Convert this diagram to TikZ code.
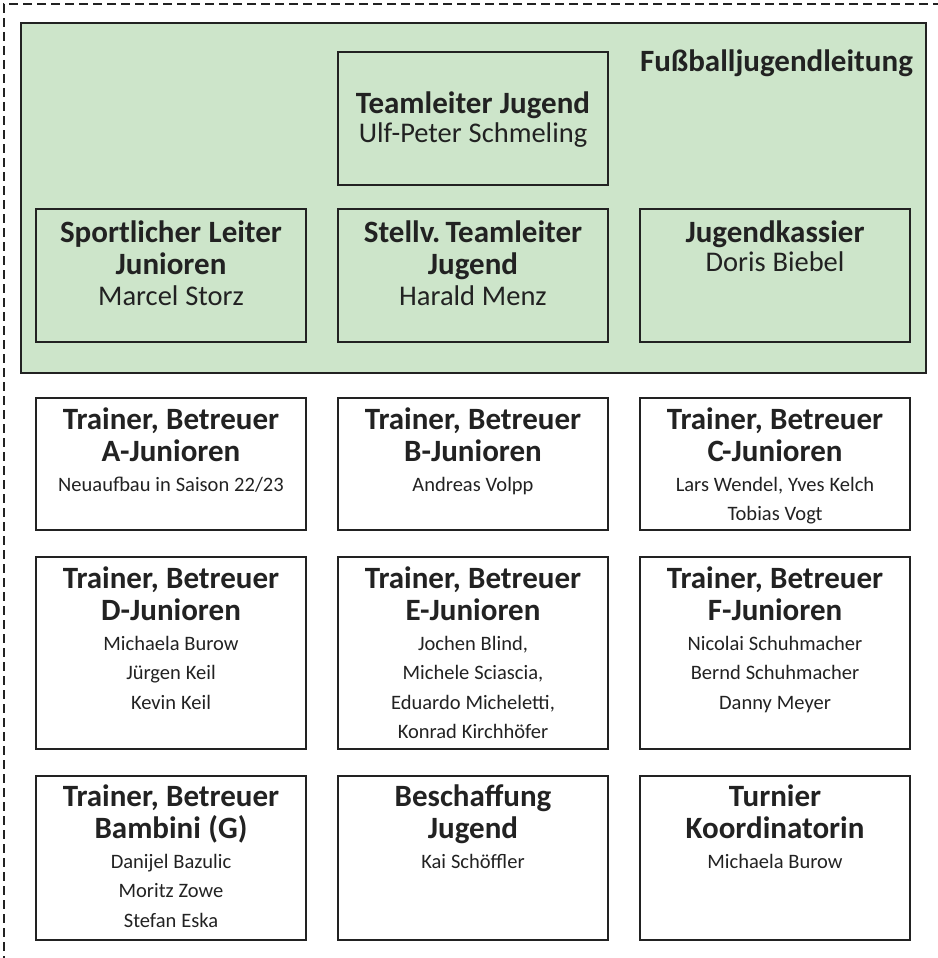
\documentclass[tikz,border=0pt]{standalone}
\usepackage{fontspec}
\setmainfont{Carlito}
\definecolor{lgreen}{RGB}{205,229,202}
\definecolor{edge}{RGB}{34,34,34}
\newcommand\ttl{\fontsize{31}{32.5}\selectfont\bfseries\spaceskip=.24em\relax}
\newcommand\nmbig{\fontsize{28.5}{31}\selectfont\mdseries\spaceskip=.24em\relax}
\newcommand\nmtop{\fontsize{28.5}{29}\selectfont\mdseries\spaceskip=.24em\relax}
\newcommand\nmsmall{\fontsize{20.5}{29.5}\selectfont\mdseries\spaceskip=.24em\relax}
\begin{document}
\begin{tikzpicture}[x=1pt,y=-1pt,
  obox/.style={draw=edge,line width=2pt,minimum width=270pt,anchor=north west,inner sep=0pt,fill=white},
  gbox/.style={obox,fill=lgreen},
  otext/.style={anchor=base,text width=268pt,align=center,inner sep=0pt,text=edge}]
\useasboundingbox (0,0) rectangle (937,958);
\draw[edge,line width=2pt,dash pattern=on 9pt off 5pt] (942,4) -- (4,4) -- (4,964);
% green area
\node[draw=edge,line width=2pt,fill=lgreen,anchor=north west,minimum width=905pt,minimum height=350pt,inner sep=0pt] (leit) at (20,22) {};
\node[anchor=base east,inner sep=0pt,text=edge] (leitt) at (913,71) {\ttl Fußballjugendleitung};
% top box
\node[gbox,minimum height=133pt] (tl) at (337,51) {};
\node[otext] (tlt) at ([yshift=-62pt]tl.north) {{\ttl Teamleiter Jugend\par}{\nmtop Ulf-Peter Schmeling\par}};
% green row
\node[gbox,minimum height=133pt] (sl) at (35,208) {};
\node[otext] (slt) at ([yshift=-34pt]sl.north) {{\ttl Sportlicher Leiter\par Junioren\par}{\nmbig Marcel Storz\par}};
\node[gbox,minimum height=133pt] (st) at (337,208) {};
\node[otext] (stt) at ([yshift=-34pt]st.north) {{\ttl Stellv. Teamleiter\par Jugend\par}{\nmbig Harald Menz\par}};
\node[gbox,minimum height=133pt] (jk) at (639,208) {};
\node[otext] (jkt) at ([yshift=-34pt]jk.north) {{\ttl Jugendkassier\par}{\nmtop Doris Biebel\par}};
% row 3
\node[obox,minimum height=132pt] (a) at (35,397) {};
\node[otext] (at) at ([yshift=-32pt]a.north) {{\ttl Trainer, Betreuer\par A-Junioren\par}{\nmsmall Neuaufbau in Saison 22/23\par}};
\node[obox,minimum height=132pt] (b) at (337,397) {};
\node[otext] (bt) at ([yshift=-32pt]b.north) {{\ttl Trainer, Betreuer\par B-Junioren\par}{\nmsmall Andreas Volpp\par}};
\node[obox,minimum height=132pt] (c) at (639,397) {};
\node[otext] (ct) at ([yshift=-32pt]c.north) {{\ttl Trainer, Betreuer\par C-Junioren\par}{\nmsmall Lars Wendel, Yves Kelch\par Tobias Vogt\par}};
% row 4
\node[obox,minimum height=192pt] (d) at (35,556) {};
\node[otext] (dt) at ([yshift=-32pt]d.north) {{\ttl Trainer, Betreuer\par D-Junioren\par}{\nmsmall Michaela Burow\par Jürgen Keil\par Kevin Keil\par}};
\node[obox,minimum height=192pt] (e) at (337,556) {};
\node[otext] (et) at ([yshift=-32pt]e.north) {{\ttl Trainer, Betreuer\par E-Junioren\par}{\nmsmall Jochen Blind,\par Michele Sciascia,\par Eduardo Micheletti,\par Konrad Kirchhöfer\par}};
\node[obox,minimum height=192pt] (f) at (639,556) {};
\node[otext] (ft) at ([yshift=-32pt]f.north) {{\ttl Trainer, Betreuer\par F-Junioren\par}{\nmsmall Nicolai Schuhmacher\par Bernd Schuhmacher\par Danny Meyer\par}};
% row 5
\node[obox,minimum height=164pt] (g) at (35,775) {};
\node[otext] (gt) at ([yshift=-31pt]g.north) {{\ttl Trainer, Betreuer\par Bambini (G)\par}{\nmsmall Danijel Bazulic\par Moritz Zowe\par Stefan Eska\par}};
\node[obox,minimum height=164pt] (bj) at (337,775) {};
\node[otext] (bjt) at ([yshift=-31pt]bj.north) {{\ttl Beschaffung\par Jugend\par}{\nmsmall Kai Schöffler\par}};
\node[obox,minimum height=164pt] (tk) at (639,775) {};
\node[otext] (tkt) at ([yshift=-31pt]tk.north) {{\ttl Turnier\par Koordinatorin\par}{\nmsmall Michaela Burow\par}};
\end{tikzpicture}
\end{document}
